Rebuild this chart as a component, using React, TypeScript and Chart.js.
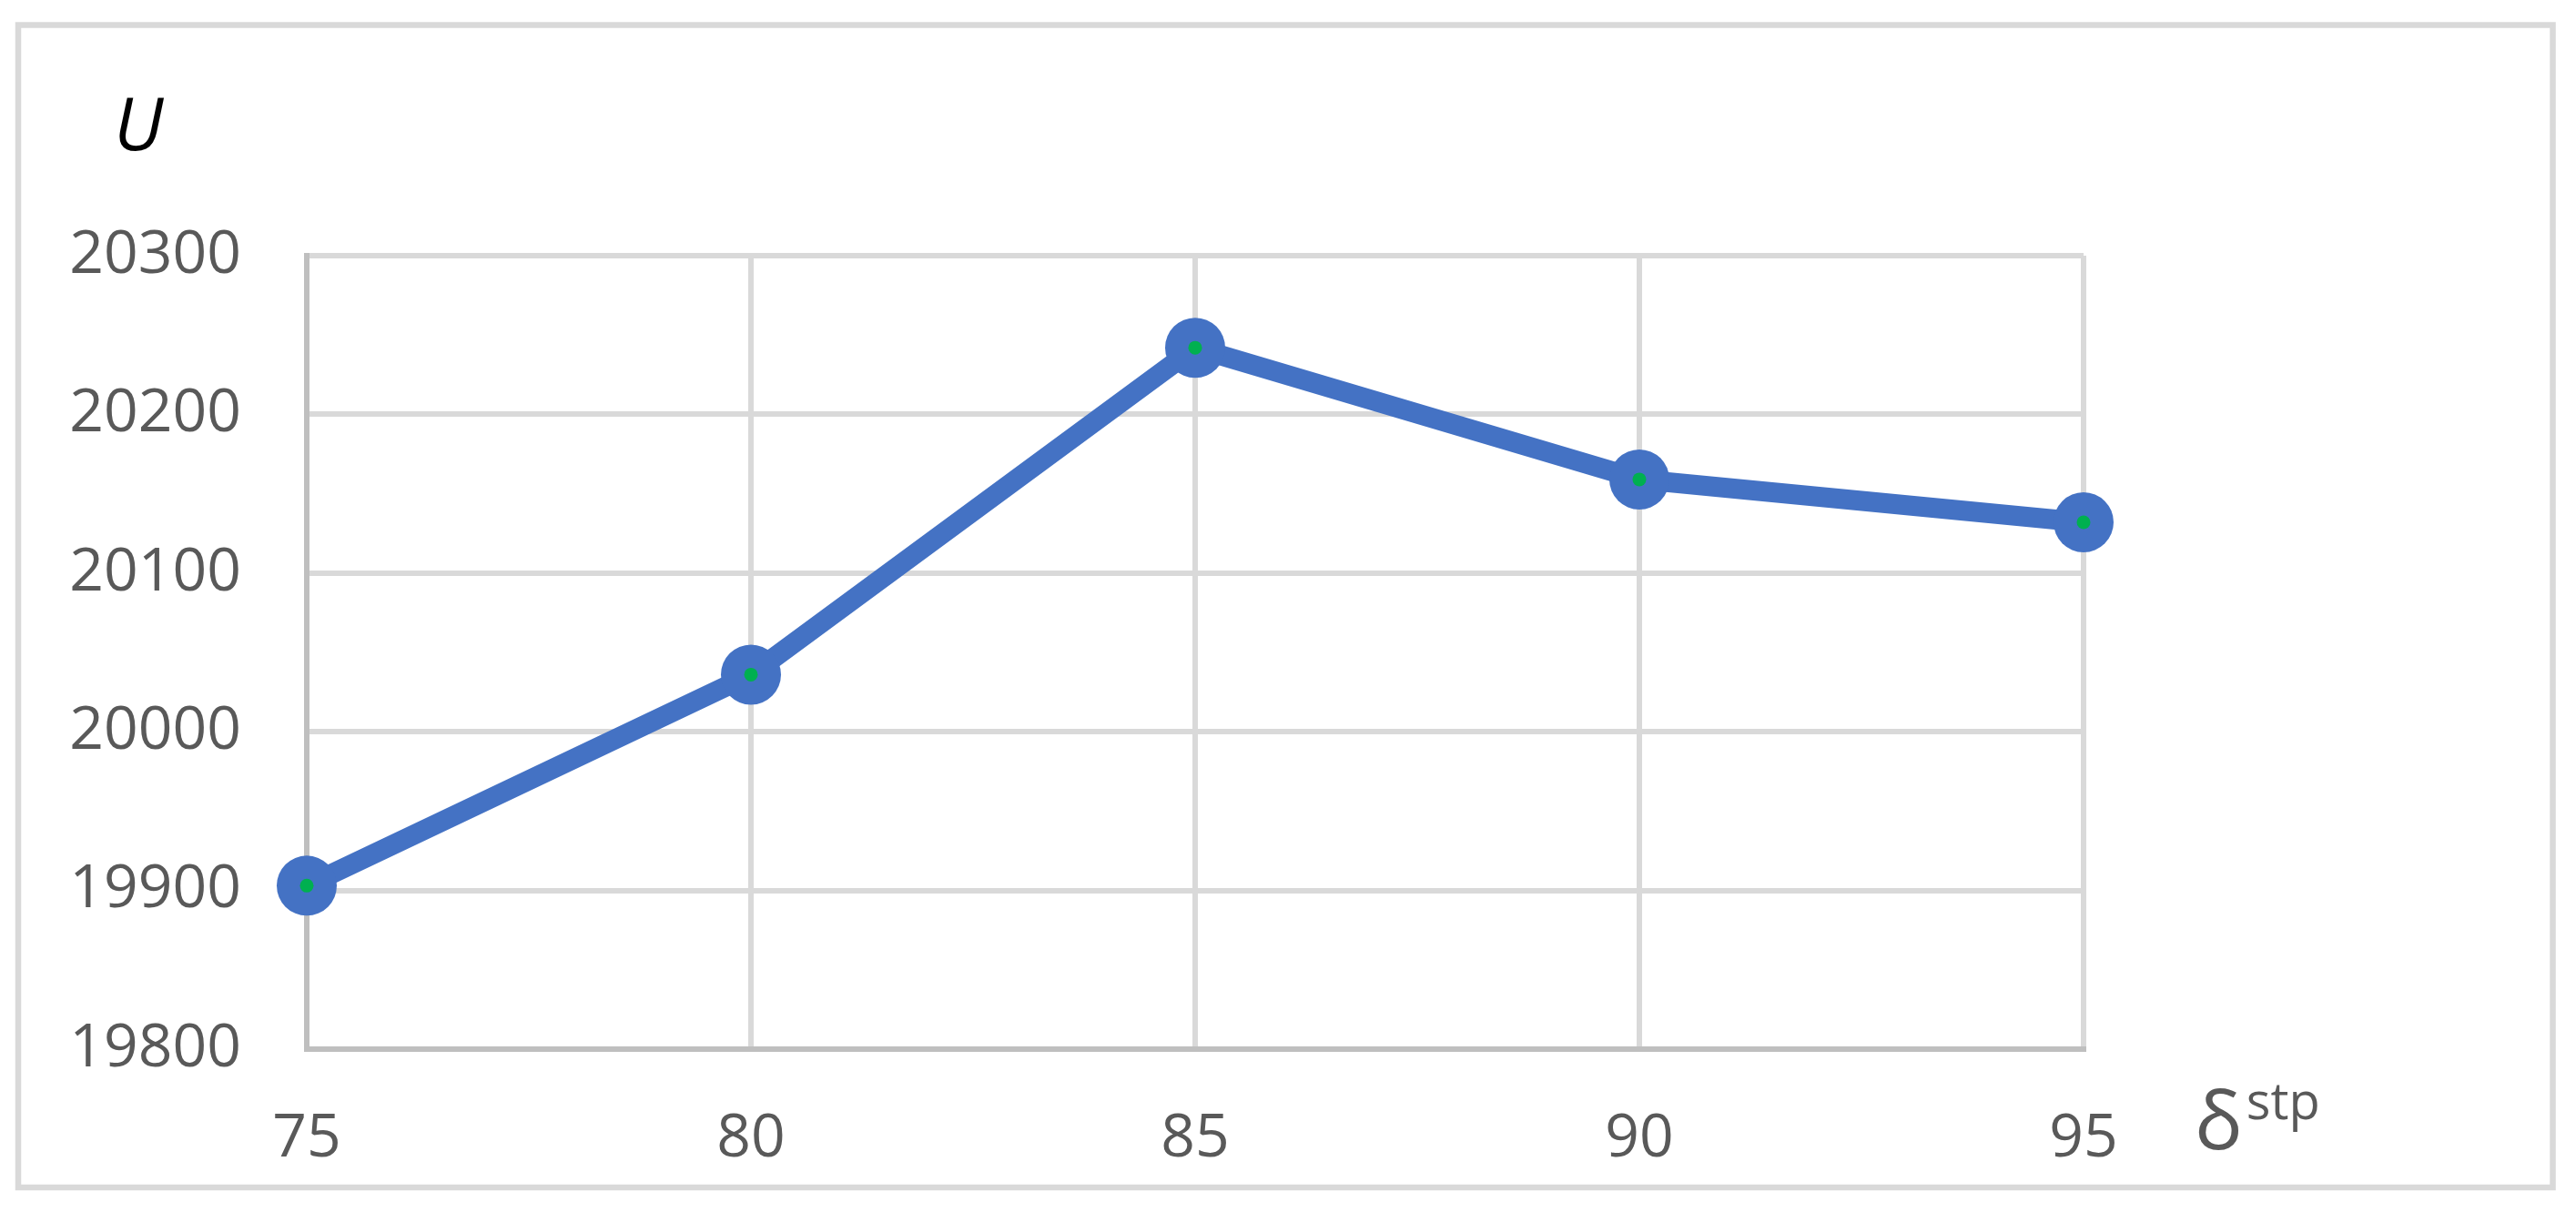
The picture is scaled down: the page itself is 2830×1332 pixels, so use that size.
import React, { useEffect, useRef } from "react";
import { Chart, registerables } from "chart.js";

Chart.register(...registerables);

const categories: string[] = ["75", "80", "85", "90", "95"];
const uValues: number[] = [19903, 20036, 20242, 20159, 20132];
const yMin = 19800;
const yMax = 20300;
const yStep = 100;
const yAxisLabel = "U";
const xAxisLabelMain = "δ";
const xAxisLabelSup = "stp";

const W = 2830;
const H = 1332;

const decorPlugin = {
  id: "decor",
  beforeDraw(chart: any) {
    const ctx = chart.ctx;
    ctx.save();
    ctx.fillStyle = "#ffffff";
    ctx.fillRect(0, 0, W, H);
    ctx.strokeStyle = "#d9d9d9";
    ctx.lineWidth = 6.5;
    ctx.strokeRect(20, 27.5, 2784.5, 1277.5);
    ctx.restore();
  },
  afterDraw(chart: any) {
    const ctx = chart.ctx;
    const area = chart.chartArea;
    ctx.save();
    ctx.textBaseline = "alphabetic";
    ctx.textAlign = "left";
    ctx.fillStyle = "#000000";
    ctx.font = "italic 80px 'Open Sans'";
    ctx.fillText(yAxisLabel, area.left - 212, area.top - 116);
    ctx.fillStyle = "#595959";
    ctx.font = "88px 'Open Sans'";
    ctx.fillText(xAxisLabelMain, area.right + 122, area.bottom + 110);
    const dw = ctx.measureText(xAxisLabelMain).width;
    ctx.font = "56px 'Open Sans'";
    ctx.fillText(xAxisLabelSup, area.right + 122 + dw + 4, area.bottom + 77);
    ctx.restore();
  },
};

export default function App() {
  const ref = useRef<HTMLCanvasElement | null>(null);
  useEffect(() => {
    if (!ref.current) return;
    const chart = new Chart(ref.current, {
      type: "line",
      data: {
        labels: categories,
        datasets: [
          {
            data: uValues,
            showLine: false,
            pointRadius: 7.5,
            pointBackgroundColor: "#00b050",
            pointBorderWidth: 0,
            clip: false,
          } as any,
          {
            data: uValues,
            borderColor: "#4472c4",
            borderWidth: 22,
            pointRadius: 33,
            pointBackgroundColor: "#4472c4",
            pointBorderWidth: 0,
            tension: 0,
            clip: false,
          } as any,
        ],
      },
      options: {
        animation: false,
        responsive: false,
        devicePixelRatio: 1,
        layout: { padding: { left: 0, top: 281, right: 541, bottom: 0 } },
        plugins: { legend: { display: false }, tooltip: { enabled: false }, title: { display: false } },
        scales: {
          x: {
            type: "category",
            offset: false,
            grid: { color: "#d9d9d9", lineWidth: 6, drawTicks: false },
            border: { color: "#bfbfbf", width: 6 },
            ticks: {
              color: "#595959",
              font: { family: "'Open Sans'", size: 66 },
              padding: 60,
              maxRotation: 0,
            },
            afterFit: (s: any) => {
              s.height = 179;
            },
          },
          y: {
            min: yMin,
            max: yMax,
            grid: { color: "#d9d9d9", lineWidth: 6, drawTicks: false },
            border: { color: "#bfbfbf", width: 6 },
            ticks: {
              stepSize: yStep,
              color: "#595959",
              font: { family: "'Open Sans'", size: 66 },
              padding: 72,
              callback: (v: any) => String(v),
            },
            afterFit: (s: any) => {
              s.width = 337;
            },
          },
        },
      },
      plugins: [decorPlugin],
    });
    return () => chart.destroy();
  }, []);
  return (
    <div style={{ position: "fixed", left: 0, top: 0, width: W, height: H, background: "#fff" }}>
      <canvas ref={ref} width={W} height={H} style={{ width: W, height: H, display: "block" }} />
    </div>
  );
}
